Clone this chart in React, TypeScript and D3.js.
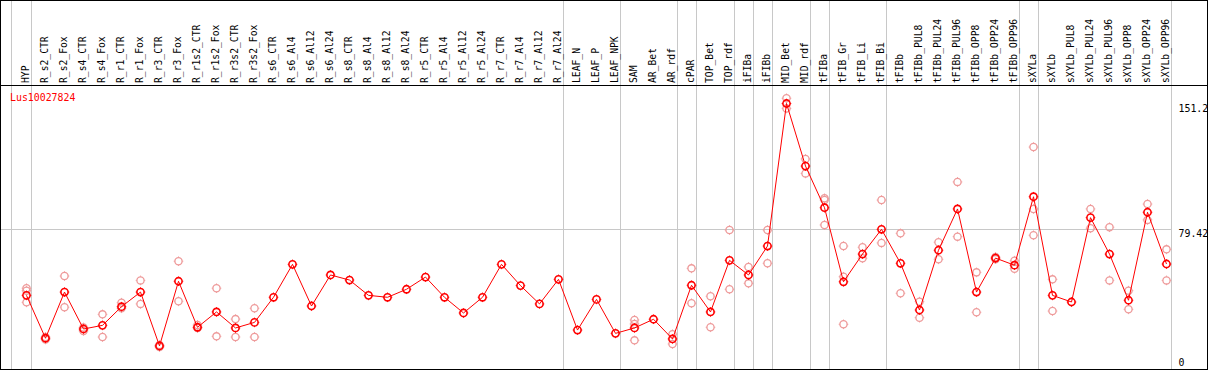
import React from "react";
import * as d3 from "d3";

const geneId = "Lus10027824";

const categories = [
  "HYP",
  "R_s2_CTR", "R_s2_Fox", "R_s4_CTR", "R_s4_Fox", "R_r1_CTR", "R_r1_Fox", "R_r3_CTR", "R_r3_Fox",
  "R_r1s2_CTR", "R_r1s2_Fox", "R_r3s2_CTR", "R_r3s2_Fox",
  "R_s6_CTR", "R_s6_Al4", "R_s6_Al12", "R_s6_Al24",
  "R_s8_CTR", "R_s8_Al4", "R_s8_Al12", "R_s8_Al24",
  "R_r5_CTR", "R_r5_Al4", "R_r5_Al12", "R_r5_Al24",
  "R_r7_CTR", "R_r7_Al4", "R_r7_Al12", "R_r7_Al24",
  "LEAF_N", "LEAF_P", "LEAF_NPK",
  "SAM", "AR_Bet", "AR_rdf",
  "cPAR",
  "TOP_Bet", "TOP_rdf",
  "iFIBa",
  "iFIBb",
  "MID_Bet", "MID_rdf",
  "tFIBa",
  "tFIB_Gr", "tFIB_Li", "tFIB_Bi",
  "tFIBb", "tFIBb_PUL8", "tFIBb_PUL24", "tFIBb_PUL96", "tFIBb_OPP8", "tFIBb_OPP24", "tFIBb_OPP96",
  "sXYLa",
  "sXYLb", "sXYLb_PUL8", "sXYLb_PUL24", "sXYLb_PUL96", "sXYLb_OPP8", "sXYLb_OPP24", "sXYLb_OPP96",
];

// number of consecutive categories in each separated group
const groupSizes = [1, 28, 3, 3, 1, 2, 1, 1, 2, 1, 3, 7, 1, 7];

const meanValues = [
  41.1,
  16.5, 43.0, 21.8, 23.9, 34.6, 43.0, 12.1, 49.2,
  22.8, 31.6, 22.4, 25.6,
  40.0, 58.9, 35.0, 52.8,
  49.9, 41.1, 40.0, 44.6,
  51.6, 40.0, 31.0, 40.0,
  58.9, 46.7, 36.2, 50.3,
  21.2, 38.8, 19.3,
  22.4, 27.4, 16.1,
  46.9,
  31.6, 61.2,
  52.8,
  69.4,
  151.2, 115.3,
  91.4,
  48.9, 64.8, 79.0,
  59.5, 32.7, 67.0, 90.7, 43.0, 62.5, 58.4,
  97.7,
  41.1, 37.3, 85.7, 64.8, 38.3, 88.8, 59.1,
];

const replicateA: (number | null)[] = [
  45.2,
  17.2, 52.2, 22.7, 30.2, 36.9, 49.7, 12.6, 60.7,
  24.1, 45.2, 27.5, 33.7,
  null, null, null, null,
  null, null, null, null,
  null, null, null, null,
  null, null, null, null,
  null, null, null,
  27.0, null, 18.8,
  56.6,
  40.6, 78.6,
  57.4,
  78.6,
  154.2, 119.4,
  96.8,
  69.4, 68.7, 95.8,
  76.7, 37.5, 71.6, 106.2, 54.3, 63.1, 61.0,
  126.2,
  50.3, null, 90.7, 80.2, 43.8, 93.5, 67.5,
];

const replicateB: (number | null)[] = [
  43.8,
  15.8, 34.3, 20.7, 17.2, 33.7, 36.2, 11.5, 37.7,
  22.4, 17.6, 17.2, 17.2,
  null, null, null, null,
  null, null, null, null,
  null, null, null, null,
  null, null, null, null,
  null, null, null,
  24.7, null, 13.2,
  36.6,
  22.8, 44.6,
  48.0,
  59.5,
  148.4, 111.1,
  95.8,
  51.8, 62.4, 71.2,
  42.3, 28.3, 61.8, 74.8, 31.4, 61.9, 56.4,
  90.7,
  32.1, null, 79.6, 49.7, 33.1, 84.4, 49.7,
];

const replicateC: (number | null)[] = [
  37.1,
  null, null, null, null, null, null, null, null,
  null, null, null, null,
  null, null, null, null,
  null, null, null, null,
  null, null, null, null,
  null, null, null, null,
  null, null, null,
  15.3, null, null,
  null,
  null, null,
  null,
  null,
  null, null,
  81.5,
  24.5, null, null,
  null, null, null, null, null, null, null,
  75.6,
  null, null, null, null, null, null, null,
];

const axisTicks = [0, 79.42, 151.2];
const axisTickLabels = ["0", "79.42", "151.2"];
const gridValue = 79.42;

const FONT = "'DejaVu Sans Mono', monospace";

function Marker({ cx, cy, color, sw }: { cx: number; cy: number; color: string; sw: number }) {
  const r = 3.6;
  const t = 4.8;
  return (
    <g stroke={color} fill="none">
      <circle cx={cx} cy={cy} r={r} strokeWidth={sw} />
      <path
        d={`M${cx},${cy - t}V${cy - r}M${cx},${cy + r}V${cy + t}M${cx - t},${cy}H${cx - r}M${cx + r},${cy}H${cx + t}`}
        strokeWidth={0.9}
      />
    </g>
  );
}

export default function App() {
  const W = 1209;
  const H = 370;
  const headerBottom = 85.5;

  const x = d3.scalePoint<string>().domain(categories).range([26.5, 1166.5]);
  const y = d3.scaleLinear().domain([0, 151.2]).range([367, 103.5]);

  const px = (i: number) => x(categories[i]) as number;

  // group separators
  const sepXs: number[] = [Math.round(px(0) - 16) + 0.5];
  let acc = 0;
  groupSizes.forEach((g) => {
    acc += g;
    sepXs.push(Math.round(px(acc - 1) + 4) + 0.5);
  });
  const lastSep = sepXs[sepXs.length - 1];

  const line = d3
    .line<number>()
    .x((_, i) => px(i))
    .y((d) => y(d));

  const reps = [replicateA, replicateB, replicateC];
  const repColor = "#ee9a9a";
  const red = "#ff0000";
  const gridY = Math.round(y(gridValue)) + 0.5;

  return (
    <svg
      width={W}
      height={H}
      viewBox={`0 0 ${W} ${H}`}
      style={{ position: "absolute", left: 0, top: 0, background: "#fff" }}
    >
      <rect x={0} y={0} width={W} height={H} fill="#fff" />
      {/* vertical group separators */}
      {sepXs.map((sx, i) => (
        <line key={"s" + i} x1={sx} x2={sx} y1={0} y2={369} stroke="#c8c8c8" strokeWidth={1} />
      ))}
      {/* horizontal reference line */}
      <line x1={1} x2={lastSep} y1={gridY} y2={gridY} stroke="#c8c8c8" strokeWidth={1} />

      {/* category labels */}
      {categories.map((c, i) => (
        <text
          key={"c" + i}
          transform={`translate(${px(i) + 2},83) rotate(-90)`}
          fontFamily={FONT}
          fontSize={9.7}
          fill="#000"
        >
          {c}
        </text>
      ))}

      {/* header separator and border */}
      <line x1={0} x2={1208} y1={headerBottom} y2={headerBottom} stroke="#000" strokeWidth={1} />
      <rect x={0.5} y={0.5} width={1207} height={369} fill="none" stroke="#000" strokeWidth={1} />

      {/* gene id */}
      <text x={10} y={101} fontFamily={FONT} fontSize={9.9} fill={red}>
        {geneId}
      </text>

      {/* axis labels */}
      {axisTicks.map((t, i) => {
        const ty = y(t);
        const baseline = t === 0 ? 366 : ty + 8;
        return (
          <text key={"t" + i} x={1178.5} y={baseline} fontFamily={FONT} fontSize={9.9} fill="#000">
            {axisTickLabels[i]}
          </text>
        );
      })}

      {/* replicate markers */}
      {reps.map((arr, k) =>
        arr.map((v, i) =>
          v == null ? null : (
            <Marker key={`r${k}-${i}`} cx={px(i)} cy={y(v)} color={repColor} sw={1.3} />
          )
        )
      )}

      {/* mean line */}
      <path d={line(meanValues) || ""} fill="none" stroke={red} strokeWidth={1} />

      {/* mean markers */}
      {meanValues.map((v, i) => (
        <Marker key={"m" + i} cx={px(i)} cy={y(v)} color={red} sw={1.6} />
      ))}
    </svg>
  );
}
